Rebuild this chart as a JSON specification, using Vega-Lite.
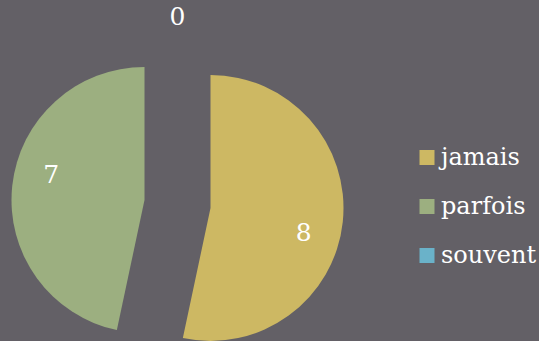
{
  "$schema": "https://vega.github.io/schema/vega-lite/v6.json",
  "width": 355,
  "height": 274,
  "autosize": "none",
  "padding": {"left": 0, "top": 67, "right": 184, "bottom": 0},
  "background": "#636066",
  "config": {"view": {"stroke": null}, "font": "DejaVu Serif"},
  "data": {
    "values": [
      {"reponse": "jamais", "n": 8},
      {"reponse": "parfois", "n": 7},
      {"reponse": "souvent", "n": 0}
    ]
  },
  "encoding": {
    "theta": {"field": "n", "type": "quantitative", "stack": true},
    "order": {"field": "reponse", "sort": "ascending"}
  },
  "layer": [
    {
      "mark": {"type": "arc", "outerRadius": 133, "xOffset": 33, "yOffset": 4},
      "encoding": {
        "color": {
          "field": "reponse", "type": "nominal",
          "scale": {"domain": ["jamais", "parfois", "souvent"], "range": ["#cdb863", "#9caf80", "#6ab2c9"]},
          "legend": {
            "title": null, "orient": "none", "legendX": 415, "legendY": 78.5,
            "symbolType": "square", "symbolSize": 225, "symbolStrokeWidth": 0,
            "labelFont": "DejaVu Serif", "labelFontSize": 24, "labelColor": "#ffffff",
            "labelOffset": 2, "rowPadding": 25, "symbolOpacity": 1, "labelLimit": 300
          }
        },
        "fillOpacity": {"condition": {"test": "datum.reponse === 'jamais'", "value": 1}, "value": 0}
      }
    },
    {
      "mark": {"type": "arc", "outerRadius": 133, "xOffset": -33, "yOffset": -4},
      "encoding": {
        "color": {"field": "reponse", "type": "nominal"},
        "fillOpacity": {"condition": {"test": "datum.reponse === 'parfois'", "value": 1}, "value": 0}
      }
    },
    {
      "mark": {"type": "text", "radius": 129.5, "thetaOffset": 0.12, "font": "DejaVu Serif", "fontSize": 25, "color": "#ffffff", "baseline": "middle", "align": "center"},
      "encoding": {
        "text": {"field": "n", "type": "quantitative"},
        "opacity": {"condition": {"test": "datum.reponse !== 'souvent'", "value": 1}, "value": 0}
      }
    },
    {
      "mark": {"type": "text", "radius": 187, "font": "DejaVu Serif", "fontSize": 25, "color": "#ffffff", "baseline": "middle", "align": "center"},
      "encoding": {
        "text": {"field": "n", "type": "quantitative"},
        "opacity": {"condition": {"test": "datum.reponse === 'souvent'", "value": 1}, "value": 0}
      }
    }
  ]
}
